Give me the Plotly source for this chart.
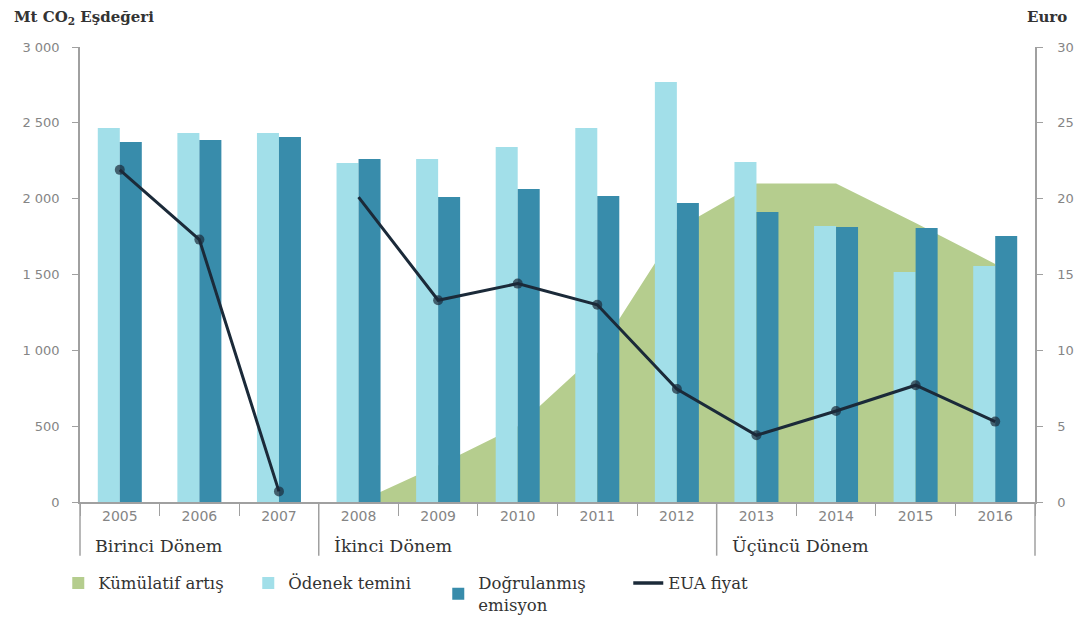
import plotly.graph_objects as go

years = ["2005", "2006", "2007", "2008", "2009", "2010", "2011", "2012", "2013", "2014", "2015", "2016"]
kumulatif = [None, None, None, 0, 240, 500, 980, 1800, 2100, 2100, 1840, 1570]
odenek = [2466, 2433, 2433, 2235, 2262, 2341, 2466, 2769, 2242, 1820, 1516, 1556]
dogrulanmis = [2374, 2387, 2407, 2262, 2011, 2064, 2018, 1971, 1912, 1813, 1806, 1754]
eua = [21.9, 17.3, 0.7, 20.1, 13.3, 14.4, 13.0, 7.45, 4.4, 6.0, 7.7, 5.3]
periods = ["Birinci Dönem", "İkinci Dönem", "Üçüncü Dönem"]
period_start = [0, 3, 8]  # index of first year of each period
left_ticks = [0, 500, 1000, 1500, 2000, 2500, 3000]
left_ticktext = ["0", "500", "1 000", "1 500", "2 000", "2 500", "3 000"]
right_ticks = [0, 5, 10, 15, 20, 25, 30]

GREEN = "#b5cd8e"
LIGHT = "#a2dfe9"
DARK = "#388cab"
LINE = "#1b2a39"
AXIS = "#a0a0a0"
TICK = "#858585"
SERIF = "DejaVu Serif, serif"
SANS = "DejaVu Sans, sans-serif"

fig = go.Figure()

fig.add_trace(go.Scatter(
    x=years, y=kumulatif, name="Kümülatif artış", mode="lines",
    line=dict(width=0, color=GREEN), fill="tozeroy", fillcolor=GREEN,
    yaxis="y", connectgaps=False, showlegend=False,
))
# legend-only square for the area
fig.add_trace(go.Scatter(x=[None], y=[None], mode="markers", name="Kümülatif artış",
                         marker=dict(symbol="square", size=12, color=GREEN), yaxis="y"))
fig.add_trace(go.Bar(x=years, y=odenek, name="Ödenek temini", marker_color=LIGHT,
                     marker_line_width=0, yaxis="y2"))
fig.add_trace(go.Bar(x=years, y=dogrulanmis, name="Doğrulanmış<br>emisyon", marker_color=DARK,
                     marker_line_width=0, yaxis="y2"))

# break the price line between the first and second trading periods
brk = period_start[1]
line_x = years[:brk] + [None] + years[brk:]
line_y = eua[:brk] + [None] + eua[brk:]
sizes = [10] * brk + [0] + [0] + [10] * (len(years) - brk - 1)
fig.add_trace(go.Scatter(
    x=line_x, y=line_y, name="EUA fiyat", mode="lines+markers",
    line=dict(color=LINE, width=3), marker=dict(color=LINE, size=sizes, line=dict(width=0)),
    yaxis="y3", connectgaps=False, showlegend=False,
))
fig.add_trace(go.Scatter(x=[None], y=[None], mode="lines", name="EUA fiyat",
                         line=dict(color=LINE, width=3.5), yaxis="y3"))

fig.update_layout(
    width=1079, height=617,
    margin=dict(l=80, r=44, t=47, b=115, autoexpand=False),
    plot_bgcolor="white", paper_bgcolor="white",
    barmode="group", bargap=0.447, bargroupgap=0,
    showlegend=True,
    legend=dict(orientation="h", x=0.054, xanchor="left", xref="container",
                y=0.083, yanchor="top", yref="container",
                font=dict(family=SERIF, size=16.5, color="#333"),
                traceorder="normal", itemwidth=30, entrywidth=145, valign="middle",
                tracegroupgap=0),
    xaxis=dict(type="category", range=[-0.5, 11.5], showline=True, linecolor=AXIS, linewidth=1.5,
               ticks="outside", tickson="boundaries", ticklen=12, tickcolor=AXIS,
               tickfont=dict(family=SANS, size=14, color=TICK), showgrid=False,
               automargin=False),
    yaxis=dict(range=[0, 3000], tickvals=left_ticks, ticktext=left_ticktext,
               showline=True, linecolor=AXIS, linewidth=1.5, ticks="outside", ticklen=6,
               tickcolor=AXIS, tickfont=dict(family=SANS, size=13, color=TICK),
               ticklabelstandoff=10, showgrid=False, zeroline=False, automargin=False),
    yaxis2=dict(range=[0, 3000], overlaying="y", visible=False, showgrid=False, zeroline=False),
    yaxis3=dict(range=[0, 30], overlaying="y", side="right", tickvals=right_ticks,
                showline=True, linecolor=AXIS, linewidth=1.5, ticks="outside", ticklen=6,
                tickcolor=AXIS, tickfont=dict(family=SANS, size=13, color=TICK),
                ticklabelstandoff=12, showgrid=False, zeroline=False, automargin=False),
)

shapes = []
# period separators and extended outer lines
for idx in period_start[1:]:
    shapes.append(dict(type="line", xref="x", yref="paper", x0=idx - 0.5, x1=idx - 0.5,
                       y0=0, y1=-0.118, line=dict(color=AXIS, width=1.5)))
for px in [0, 1]:
    shapes.append(dict(type="line", xref="paper", yref="paper", x0=px, x1=px,
                       y0=0, y1=-0.118, line=dict(color=AXIS, width=1.5)))
fig.update_layout(shapes=shapes)

ann = []
for name, idx in zip(periods, period_start):
    ann.append(dict(x=idx - 0.5, xref="x", xshift=13, y=-0.097, yref="paper",
                    text=name, showarrow=False, xanchor="left", yanchor="middle",
                    font=dict(family=SERIF, size=17.5, color="#333")))
ann.append(dict(x=0, xref="paper", xshift=-68, y=1, yref="paper", yshift=30,
                text="<b>Mt CO<sub>2</sub> Eşdeğeri</b>", showarrow=False,
                xanchor="left", yanchor="middle",
                font=dict(family=SERIF, size=15, color="#333")))
ann.append(dict(x=1, xref="paper", xshift=-10, y=1, yref="paper", yshift=30,
                text="<b>Euro</b>", showarrow=False, xanchor="left", yanchor="middle",
                font=dict(family=SERIF, size=15, color="#333")))
fig.update_layout(annotations=ann)

fig.write_html("out.html")
